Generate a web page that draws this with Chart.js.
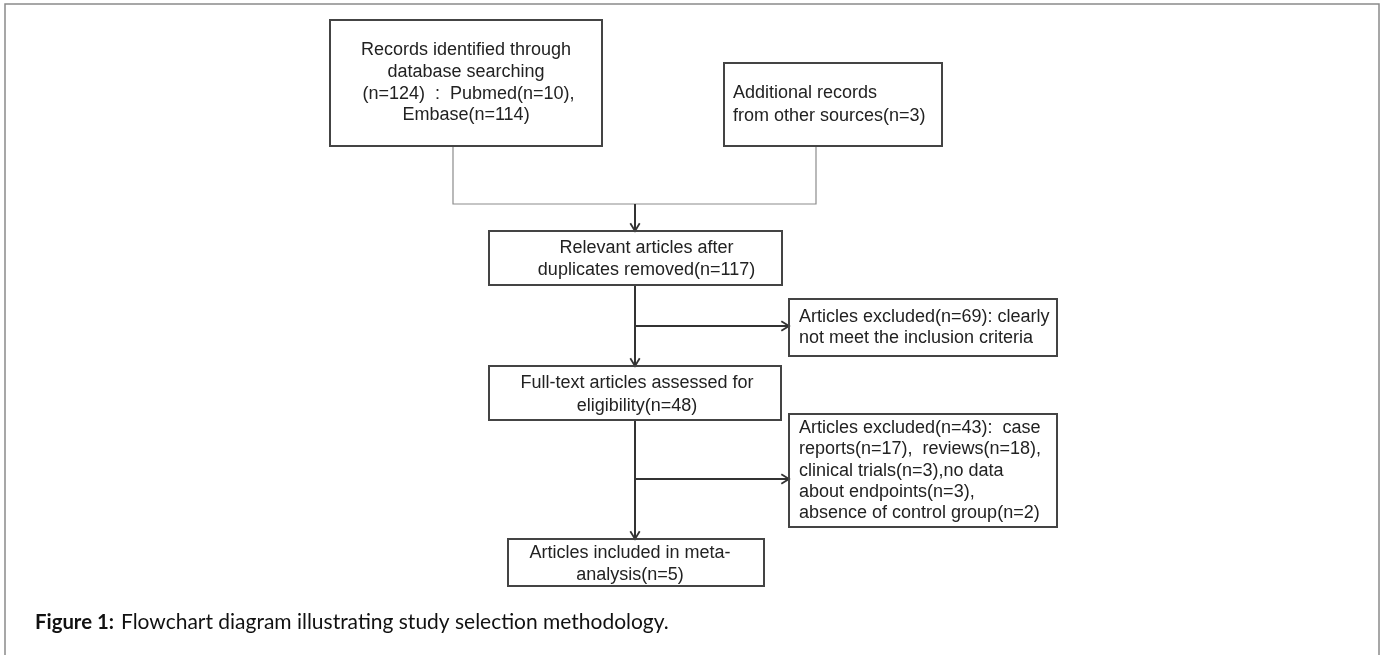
<!DOCTYPE html>
<html>
<head>
<meta charset="utf-8">
<script src="https://cdn.jsdelivr.net/npm/chart.js@4.4.1/dist/chart.umd.min.js"></script>
<style>
  html, body { margin: 0; padding: 0; background: #fff; }
  #wrap { width: 1385px; height: 655px; }
</style>
</head>
<body>
<div id="wrap"><canvas id="flow" width="1385" height="655"></canvas></div>
<script>
// Datos del diagrama de flujo (conteos de registros)
const sourceNames = ['Pubmed', 'Embase'];
const sourceCounts = [10, 114];
const otherCount = 3;
const stageCounts = [124, 117, 48, 5];      // identificados, sin duplicados, texto completo, incluidos
const excludedCounts = [69, 43];
const reasonNames = ['case reports', 'reviews', 'clinical trials', 'no data about endpoints', 'absence of control group'];
const reasonCounts = [17, 18, 3, 3, 2];
const captionBold = 'Figure 1:';
const captionText = 'Flowchart diagram illustrating study selection methodology.';

// Textos de cada caja
const boxTexts = [
  ['Records identified through', 'database searching',
   ' (n=' + stageCounts[0] + ')  :  ' + sourceNames[0] + '(n=' + sourceCounts[0] + '),',
   sourceNames[1] + '(n=' + sourceCounts[1] + ')'],
  ['Additional records', 'from other sources(n=' + otherCount + ')'],
  ['Relevant articles after', 'duplicates removed(n=' + stageCounts[1] + ')'],
  ['Articles excluded(n=' + excludedCounts[0] + '): clearly', 'not meet the inclusion criteria'],
  ['Full-text articles assessed for', 'eligibility(n=' + stageCounts[2] + ')'],
  ['Articles excluded(n=' + excludedCounts[1] + '):  case',
   'reports(n=' + reasonCounts[0] + '),  reviews(n=' + reasonCounts[1] + '),',
   'clinical trials(n=' + reasonCounts[2] + '),no data',
   'about endpoints(n=' + reasonCounts[3] + '),',
   'absence of control group(n=' + reasonCounts[4] + ')'],
  ['Articles included in meta-', 'analysis(n=' + stageCounts[3] + ')']
];

// Disposición (unidades del eje)
const boxLayout = [
  { x1: 330, y1: 20,  x2: 602,  y2: 146, top: 50,  step: 21.8, align: 'center', dx: 0 },
  { x1: 724, y1: 63,  x2: 942,  y2: 146, top: 93,  step: 23,   align: 'left',   dx: 9 },
  { x1: 489, y1: 231, x2: 782,  y2: 285, top: 248, step: 22,   align: 'center', dx: 11 },
  { x1: 789, y1: 299, x2: 1057, y2: 356, top: 317, step: 21,   align: 'left',   dx: 10 },
  { x1: 489, y1: 366, x2: 781,  y2: 420, top: 383, step: 23,   align: 'center', dx: 2 },
  { x1: 789, y1: 414, x2: 1057, y2: 527, top: 428, step: 21.3, align: 'left',   dx: 10 },
  { x1: 508, y1: 539, x2: 764,  y2: 586, top: 553, step: 22,   align: 'center', dx: -6 }
];

const connectors = [
  { pts: [[453, 146], [453, 204], [816, 204], [816, 146]], color: '#8c8c8c', width: 1.2, arrow: false },
  { pts: [[635, 204], [635, 231]], color: '#333', width: 2, arrow: true },
  { pts: [[635, 285], [635, 366]], color: '#333', width: 2, arrow: true },
  { pts: [[635, 326], [789, 326]], color: '#333', width: 2, arrow: true },
  { pts: [[635, 420], [635, 539]], color: '#333', width: 2, arrow: true },
  { pts: [[635, 479], [789, 479]], color: '#333', width: 2, arrow: true }
];

// fuente de tamaño ajustado a un ancho dado
function fitFont(ctx, text, weight, family, width) {
  ctx.font = weight + ' 100px ' + family;
  const size = 100 * width / ctx.measureText(text).width;
  return weight + ' ' + size.toFixed(2) + 'px ' + family;
}

const flowPlugin = {
  id: 'flowPlugin',
  afterDraw(chart) {
    const ctx = chart.ctx;
    const sx = chart.scales.x, sy = chart.scales.y;
    const px = v => sx.getPixelForValue(v);
    const py = v => sy.getPixelForValue(v);

    ctx.save();
    // marco exterior
    ctx.strokeStyle = '#8a8a8a';
    ctx.lineWidth = 1.5;
    ctx.beginPath();
    ctx.moveTo(px(5), py(700));
    ctx.lineTo(px(5), py(4));
    ctx.lineTo(px(1379), py(4));
    ctx.lineTo(px(1379), py(700));
    ctx.stroke();

    // conectores
    connectors.forEach(c => {
      ctx.strokeStyle = c.color;
      ctx.lineWidth = c.width;
      ctx.beginPath();
      c.pts.forEach((p, i) => i ? ctx.lineTo(px(p[0]), py(p[1])) : ctx.moveTo(px(p[0]), py(p[1])));
      ctx.stroke();
      if (c.arrow) {
        const a = c.pts[c.pts.length - 2], b = c.pts[c.pts.length - 1];
        const x2 = px(b[0]), y2 = py(b[1]);
        const ang = Math.atan2(y2 - py(a[1]), x2 - px(a[0]));
        const len = 9, spread = 0.55;
        ctx.lineWidth = 1.8;
        ctx.beginPath();
        ctx.moveTo(x2 - len * Math.cos(ang - spread), y2 - len * Math.sin(ang - spread));
        ctx.lineTo(x2, y2);
        ctx.lineTo(x2 - len * Math.cos(ang + spread), y2 - len * Math.sin(ang + spread));
        ctx.stroke();
      }
    });

    // cajas y textos
    ctx.font = '18px "Liberation Sans", Arial, sans-serif';
    ctx.textBaseline = 'middle';
    boxLayout.forEach((b, i) => {
      ctx.strokeStyle = '#444';
      ctx.lineWidth = 2;
      ctx.strokeRect(px(b.x1), py(b.y1), px(b.x2) - px(b.x1), py(b.y2) - py(b.y1));
      ctx.fillStyle = '#222';
      ctx.textAlign = b.align;
      const tx = b.align === 'center' ? px((b.x1 + b.x2) / 2 + b.dx) : px(b.x1 + b.dx);
      boxTexts[i].forEach((line, j) => ctx.fillText(line, tx, py(b.top + j * b.step)));
    });

    // pie de figura
    ctx.textAlign = 'left';
    ctx.fillStyle = '#111';
    const fam = 'Lato, "Open Sans", sans-serif';
    ctx.font = fitFont(ctx, captionBold, 'bold', fam, px(114) - px(35));
    ctx.fillText(captionBold, px(35), py(622));
    ctx.font = fitFont(ctx, captionText, 'normal', fam, px(669) - px(121));
    ctx.fillText(captionText, px(121), py(622));
    ctx.restore();
  }
};

new Chart(document.getElementById('flow').getContext('2d'), {
  type: 'scatter',
  data: { datasets: [{ data: [], pointRadius: 0 }] },
  options: {
    responsive: false,
    animation: false,
    layout: { padding: 0 },
    plugins: { legend: { display: false }, tooltip: { enabled: false } },
    scales: {
      x: { type: 'linear', min: 0, max: 1385, display: false },
      y: { type: 'linear', min: 0, max: 655, reverse: true, display: false }
    }
  },
  plugins: [flowPlugin]
});
</script>
</body>
</html>
